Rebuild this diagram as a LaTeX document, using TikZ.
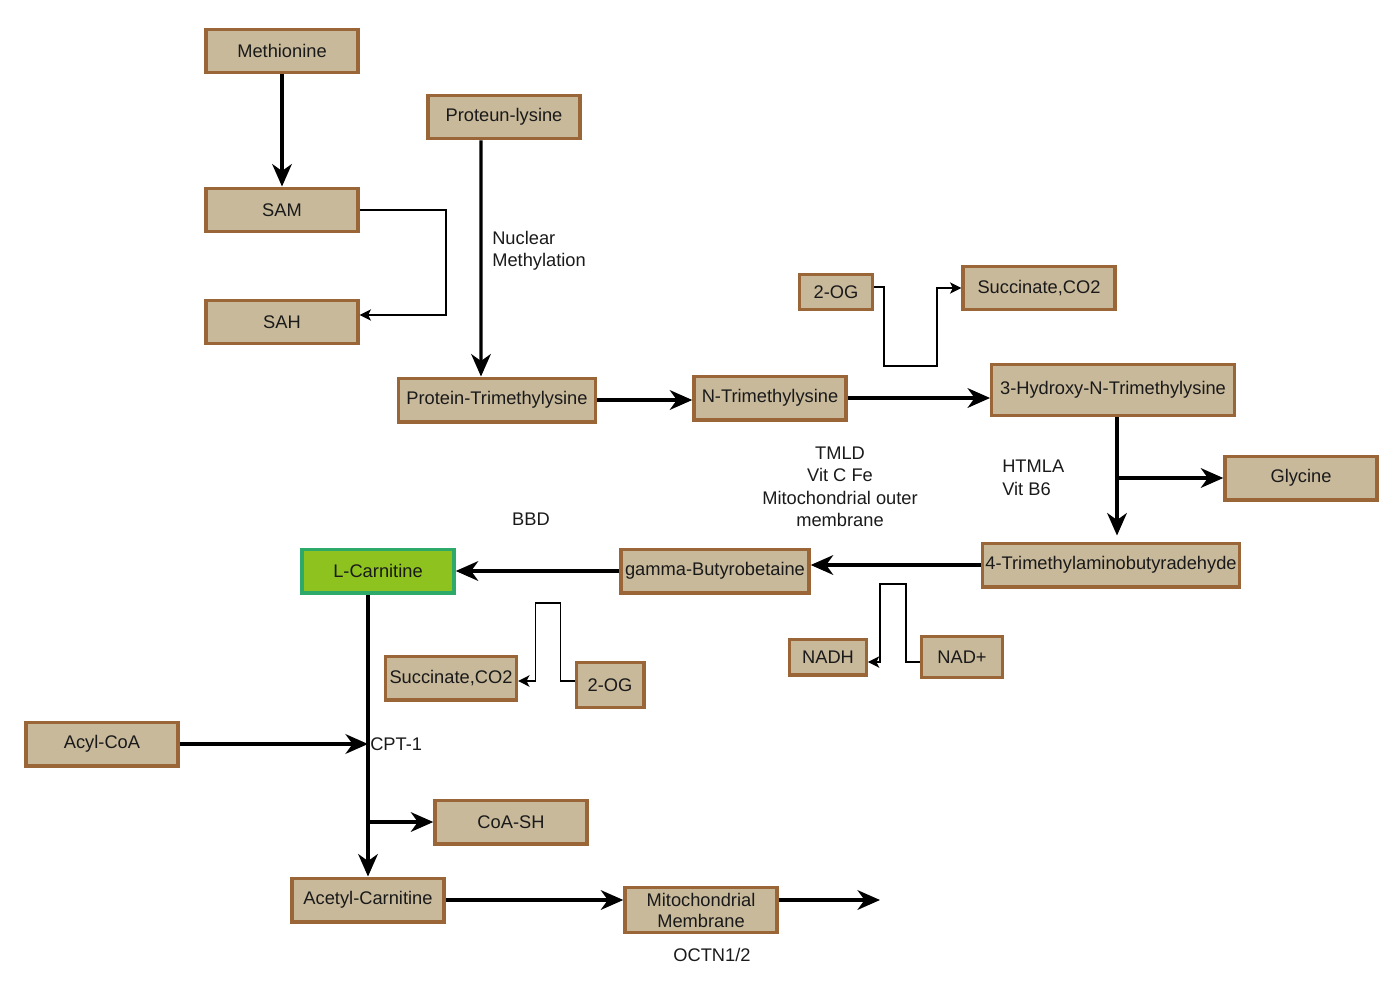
\documentclass[tikz,border=0pt]{standalone}
\usepackage{fontspec}
\setmainfont{Liberation Sans}
\usetikzlibrary{arrows.meta}
\definecolor{boxfill}{HTML}{C8B99B}
\definecolor{boxedge}{HTML}{9A6537}
\definecolor{carnfill}{HTML}{8DC21F}
\definecolor{carnedge}{HTML}{2DAA6A}
\definecolor{ink}{HTML}{1A1A1A}
\tikzset{
  box/.style={draw=boxedge, fill=boxfill, line width=2.4pt, minimum width=3.8cm,
    minimum height=1.09cm, inner sep=0pt, text=ink, font=\fontsize{13}{15}\selectfont},
  lbl/.style={inner sep=0pt, text=ink, font=\fontsize{13}{16}\selectfont},
  flow/.style={line width=2.2pt, -{Stealth[length=16pt,width=14pt,inset=5pt]}},
  thinflow/.style={line width=1.4pt, -{Stealth[length=8pt,width=8pt,inset=2pt]}}
}

\begin{document}
\begin{tikzpicture}[x=0.025cm,y=-0.025cm]
\useasboundingbox (0,0) rectangle (1400,980);
% boxes
\node[box] (met) at (282,51) {Methionine};
\node[box] (sam) at (282,210) {SAM};
\node[box] (sah) at (282,322) {SAH};
\node[box] (plys) at (504,117) {Proteun-lysine};
\node[box, minimum width=4.92cm] (ptml) at (497,400) {Protein-Trimethylysine};
\node[box] (ntml) at (770,398) {N-Trimethylysine};
\node[box, minimum width=1.83cm, minimum height=0.89cm] (og1) at (836,292) {2-OG};
\node[box] (suc1) at (1039,288) {Succinate,CO2};
\node[box, minimum width=6.06cm, minimum height=1.27cm] (hyd) at (1113,390) {3-Hydroxy-N-Trimethylysine};
\node[box] (gly) at (1301,478) {Glycine};
\node[box, minimum width=6.43cm] (tmab) at (1111,565) {4-Trimethylaminobutyradehyde};
\node[box, minimum width=4.7cm] (gbb) at (715,571) {gamma-Butyrobetaine};
\node[box, draw=carnedge, fill=carnfill] (lcar) at (378,571) {L-Carnitine};
\node[box, minimum width=1.91cm, minimum height=0.89cm] (nadh) at (828,657) {NADH};
\node[box, minimum width=2.01cm, minimum height=1.01cm] (nad) at (962,657) {NAD+};
\node[box, minimum width=3.27cm] (suc2) at (451,678) {Succinate,CO2};
\node[box, minimum width=1.69cm, minimum height=1.11cm] (og2) at (610,685) {2-OG};
\node[box] (acyl) at (102,744) {Acyl-CoA};
\node[box] (coash) at (511,822) {CoA-SH};
\node[box] (acet) at (368,900) {Acetyl-Carnitine};
\node[box, align=center, minimum height=1.11cm] (mito) at (701,910) {Mitochondrial\\Membrane};
% labels
\node[lbl, align=left, anchor=west] (nucl) at (492,251) {Nuclear\\Methylation};
\node[lbl, align=center] (tmld) at (840,487) {TMLD\\Vit C Fe\\Mitochondrial outer\\membrane};
\node[lbl, align=left, anchor=west] (htmla) at (1002,478) {HTMLA\\Vit B6};
\node[lbl] (bbd) at (531,519) {BBD};
\node[lbl, anchor=west] (cpt) at (370,744) {CPT-1};
\node[lbl] (octn) at (712,955) {OCTN1/2};
\coordinate (cptpt) at (368,744);
\coordinate (out) at (880,900);
\coordinate (hydout) at ([xshift=0.1cm]hyd.south);
% methionine cycle
\draw[flow] (met) -- (sam);
\draw[thinflow] (sam.east) -- ++(86,0) |- ([yshift=0.175cm]sah.east);
% lysine path
\draw[flow] ([xshift=-0.575cm]plys.south) -- ([xshift=-0.4cm]ptml.north);
\draw[flow] (ptml.east) -- (ptml.east -| ntml.west);
\draw[flow] (ntml.east) -- (ntml.east -| hyd.west);
\draw[thinflow] ([yshift=0.125cm]og1.east) -- ++(10,0) -- ++(0,79) -- ++(53,0) |- (suc1.west);
\draw[flow] (hydout) -- ([yshift=0.15cm]hydout |- tmab.north);
\draw[flow] (gly.west -| hydout) -- (gly.west);
\draw[flow] (tmab.west) -- (tmab.west -| gbb.east);
\draw[thinflow] ([yshift=-0.125cm]nad.west) -- ++(-14,0) -- ++(0,-78) -- ++(-26,0) |- ([yshift=-0.125cm]nadh.east);
\draw[flow] (gbb.west) -- (lcar.east);
\draw[thinflow] ([yshift=0.1cm]og2.west) -- ++(-14,0) -- ++(0,-78) -- ++(-25,0) |- ([yshift=-0.075cm]suc2.east);
% carnitine shuttle
\draw[flow] (lcar.south -| acet.north) -- (acet.north);
\draw[flow] (acyl.east) -- (cptpt);
\draw[flow] (coash.west -| acet.north) -- (coash.west);
\draw[flow] (acet.east) -- (acet.east -| mito.west);
\draw[flow] (mito.east |- out) -- (out);
\end{tikzpicture}
\end{document}
